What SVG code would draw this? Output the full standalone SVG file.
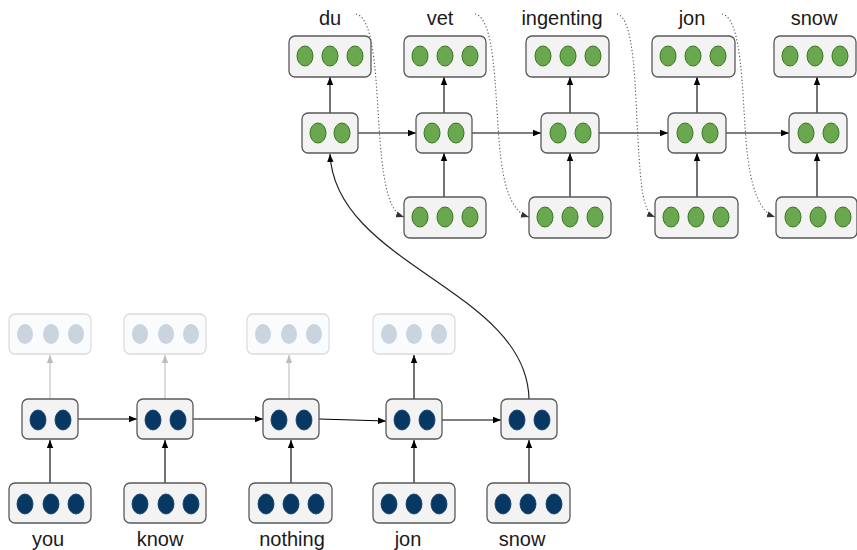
<svg xmlns="http://www.w3.org/2000/svg" width="857" height="550" viewBox="0 0 857 550">
<defs>
<style>
.box{fill:#f3f3f3;stroke:#595959;stroke-width:1.3}
.fbox{fill:#fafbfc;stroke:#dcdcdc;stroke-width:1.3}
.g{fill:#6aa84f;stroke:#38761d;stroke-width:1}
.b{fill:#073763;stroke:#0b3a66;stroke-width:0.8}
.f{fill:#c9d4df}
.lbl{font-family:"Liberation Sans",Arial,sans-serif;font-size:20px;fill:#1a1a1a;text-anchor:middle}
.a{fill:none;stroke:#000;stroke-width:1.1;marker-end:url(#ah)}
.ag{fill:none;stroke:#bdbdbd;stroke-width:1.1;marker-end:url(#ahg)}
.d{fill:none;stroke:#555;stroke-width:1.1;stroke-dasharray:1.2 2.2;marker-end:url(#ahd)}
.c{fill:none;stroke:#222;stroke-width:1.2;marker-end:url(#ah)}
ellipse{}
</style>
<marker id="ah" markerUnits="userSpaceOnUse" markerWidth="9" markerHeight="8" refX="8" refY="4" orient="auto"><path d="M0,0.8 L8,4 L0,7.2 Z" fill="#000"/></marker>
<marker id="ahg" markerUnits="userSpaceOnUse" markerWidth="9" markerHeight="8" refX="8" refY="4" orient="auto"><path d="M0,0.8 L8,4 L0,7.2 Z" fill="#bdbdbd"/></marker>
<marker id="ahd" markerUnits="userSpaceOnUse" markerWidth="9" markerHeight="8" refX="8" refY="4" orient="auto"><path d="M0,1 L8,4 L0,7 Z" fill="#333"/></marker>
</defs>

<g id="connectors">
<line class="a" x1="330" y1="113" x2="330" y2="77"/>
<line class="a" x1="444" y1="113" x2="444" y2="77"/>
<line class="a" x1="570" y1="113" x2="570" y2="77"/>
<line class="a" x1="697" y1="113" x2="697" y2="77"/>
<line class="a" x1="817" y1="113" x2="817" y2="77"/>
<line class="a" x1="444" y1="197" x2="444" y2="153"/>
<line class="a" x1="570" y1="197" x2="570" y2="153"/>
<line class="a" x1="697" y1="197" x2="697" y2="153"/>
<line class="a" x1="817" y1="197" x2="817" y2="153"/>
<line class="a" x1="358" y1="133" x2="416" y2="133"/>
<line class="a" x1="472" y1="133" x2="541" y2="133"/>
<line class="a" x1="599" y1="133" x2="668" y2="133"/>
<line class="a" x1="726" y1="133" x2="789" y2="133"/>
<path class="d" d="M356,14 C376,18 376,90 380,140 S390,212 404,217"/>
<path class="d" d="M475,14 C495,18 495,90 499,140 S512,212 529,217"/>
<path class="d" d="M617,14 C635,18 635,90 638,140 S643,212 655,217"/>
<path class="d" d="M722,14 C742,18 742,90 746,140 S760,212 775,217"/>
<line class="a" x1="50" y1="483" x2="50" y2="440"/>
<line class="a" x1="165" y1="483" x2="165" y2="440"/>
<line class="a" x1="291" y1="483" x2="291" y2="440"/>
<line class="a" x1="414" y1="483" x2="414" y2="440"/>
<line class="a" x1="529" y1="483" x2="529" y2="440"/>
<line class="ag" x1="50" y1="399" x2="50" y2="355"/>
<line class="ag" x1="165" y1="399" x2="165" y2="355"/>
<line class="ag" x1="289" y1="399" x2="289" y2="355"/>
<line class="a" x1="414" y1="399" x2="414" y2="355"/>
<line class="a" x1="78" y1="419" x2="137" y2="419"/>
<line class="a" x1="193" y1="419" x2="263" y2="419"/>
<line class="a" x1="319" y1="419" x2="386" y2="421"/>
<line class="a" x1="442" y1="420" x2="501" y2="420"/>
<path class="c" d="M529,399 C527,290 335,265 330,154"/>
</g>

<g id="dec-du-out"><rect class="box" x="289" y="36" width="82" height="41" rx="6"/><ellipse class="g" cx="305" cy="56" rx="8" ry="10"/><ellipse class="g" cx="330" cy="56" rx="8" ry="10"/><ellipse class="g" cx="355" cy="56" rx="8" ry="10"/></g>
<g id="dec-du-hid"><rect class="box" x="302" y="113" width="56" height="40" rx="6"/><ellipse class="g" cx="318" cy="133" rx="8" ry="10"/><ellipse class="g" cx="342" cy="133" rx="8" ry="10"/></g>

<g id="dec-vet-out"><rect class="box" x="404" y="36" width="82" height="41" rx="6"/><ellipse class="g" cx="420" cy="56" rx="8" ry="10"/><ellipse class="g" cx="445" cy="56" rx="8" ry="10"/><ellipse class="g" cx="470" cy="56" rx="8" ry="10"/></g>
<g id="dec-vet-hid"><rect class="box" x="416" y="113" width="56" height="40" rx="6"/><ellipse class="g" cx="432" cy="133" rx="8" ry="10"/><ellipse class="g" cx="456" cy="133" rx="8" ry="10"/></g>
<g id="dec-vet-in"><rect class="box" x="404" y="197" width="82" height="41" rx="6"/><ellipse class="g" cx="420" cy="217" rx="8" ry="10"/><ellipse class="g" cx="445" cy="217" rx="8" ry="10"/><ellipse class="g" cx="470" cy="217" rx="8" ry="10"/></g>

<g id="dec-ing-out"><rect class="box" x="526" y="36" width="83" height="41" rx="6"/><ellipse class="g" cx="543" cy="56" rx="8" ry="10"/><ellipse class="g" cx="568" cy="56" rx="8" ry="10"/><ellipse class="g" cx="593" cy="56" rx="8" ry="10"/></g>
<g id="dec-ing-hid"><rect class="box" x="541" y="113" width="58" height="40" rx="6"/><ellipse class="g" cx="558" cy="133" rx="8" ry="10"/><ellipse class="g" cx="583" cy="133" rx="8" ry="10"/></g>
<g id="dec-ing-in"><rect class="box" x="529" y="197" width="82" height="41" rx="6"/><ellipse class="g" cx="545" cy="217" rx="8" ry="10"/><ellipse class="g" cx="570" cy="217" rx="8" ry="10"/><ellipse class="g" cx="595" cy="217" rx="8" ry="10"/></g>

<g id="dec-jon-out"><rect class="box" x="652" y="36" width="83" height="41" rx="6"/><ellipse class="g" cx="668" cy="56" rx="8" ry="10"/><ellipse class="g" cx="693" cy="56" rx="8" ry="10"/><ellipse class="g" cx="718" cy="56" rx="8" ry="10"/></g>
<g id="dec-jon-hid"><rect class="box" x="668" y="113" width="58" height="40" rx="6"/><ellipse class="g" cx="685" cy="133" rx="8" ry="10"/><ellipse class="g" cx="710" cy="133" rx="8" ry="10"/></g>
<g id="dec-jon-in"><rect class="box" x="655" y="197" width="83" height="41" rx="6"/><ellipse class="g" cx="671" cy="217" rx="8" ry="10"/><ellipse class="g" cx="696" cy="217" rx="8" ry="10"/><ellipse class="g" cx="721" cy="217" rx="8" ry="10"/></g>

<g id="dec-snow-out"><rect class="box" x="774" y="36" width="82" height="41" rx="6"/><ellipse class="g" cx="790" cy="56" rx="8" ry="10"/><ellipse class="g" cx="815" cy="56" rx="8" ry="10"/><ellipse class="g" cx="840" cy="56" rx="8" ry="10"/></g>
<g id="dec-snow-hid"><rect class="box" x="789" y="113" width="58" height="40" rx="6"/><ellipse class="g" cx="806" cy="133" rx="8" ry="10"/><ellipse class="g" cx="831" cy="133" rx="8" ry="10"/></g>
<g id="dec-snow-in"><rect class="box" x="776" y="197" width="81" height="41" rx="6"/><ellipse class="g" cx="793" cy="217" rx="8" ry="10"/><ellipse class="g" cx="818" cy="217" rx="8" ry="10"/><ellipse class="g" cx="843" cy="217" rx="8" ry="10"/></g>

<g id="dec-labels">
<text class="lbl" x="330" y="25">du</text>
<text class="lbl" x="440" y="25">vet</text>
<text class="lbl" x="562" y="25">ingenting</text>
<text class="lbl" x="692" y="25">jon</text>
<text class="lbl" x="814" y="25">snow</text>
</g>

<g id="enc-you-out"><rect class="fbox" x="9" y="314" width="82" height="40" rx="6"/><ellipse class="f" cx="25" cy="334" rx="8" ry="10"/><ellipse class="f" cx="51" cy="334" rx="8" ry="10"/><ellipse class="f" cx="76" cy="334" rx="8" ry="10"/></g>
<g id="enc-you-hid"><rect class="box" x="22" y="399" width="56" height="40" rx="6"/><ellipse class="b" cx="38" cy="420" rx="8" ry="10"/><ellipse class="b" cx="63" cy="420" rx="8" ry="10"/></g>
<g id="enc-you-in"><rect class="box" x="9" y="483" width="82" height="40" rx="6"/><ellipse class="b" cx="25" cy="504" rx="8" ry="10"/><ellipse class="b" cx="51" cy="504" rx="8" ry="10"/><ellipse class="b" cx="76" cy="504" rx="8" ry="10"/></g>

<g id="enc-know-out"><rect class="fbox" x="124" y="314" width="82" height="40" rx="6"/><ellipse class="f" cx="140" cy="334" rx="8" ry="10"/><ellipse class="f" cx="166" cy="334" rx="8" ry="10"/><ellipse class="f" cx="191" cy="334" rx="8" ry="10"/></g>
<g id="enc-know-hid"><rect class="box" x="137" y="399" width="56" height="40" rx="6"/><ellipse class="b" cx="153" cy="420" rx="8" ry="10"/><ellipse class="b" cx="178" cy="420" rx="8" ry="10"/></g>
<g id="enc-know-in"><rect class="box" x="124" y="483" width="82" height="40" rx="6"/><ellipse class="b" cx="140" cy="504" rx="8" ry="10"/><ellipse class="b" cx="166" cy="504" rx="8" ry="10"/><ellipse class="b" cx="191" cy="504" rx="8" ry="10"/></g>

<g id="enc-nothing-out"><rect class="fbox" x="247" y="314" width="82" height="40" rx="6"/><ellipse class="f" cx="263" cy="334" rx="8" ry="10"/><ellipse class="f" cx="289" cy="334" rx="8" ry="10"/><ellipse class="f" cx="314" cy="334" rx="8" ry="10"/></g>
<g id="enc-nothing-hid"><rect class="box" x="263" y="399" width="56" height="40" rx="6"/><ellipse class="b" cx="279" cy="420" rx="8" ry="10"/><ellipse class="b" cx="304" cy="420" rx="8" ry="10"/></g>
<g id="enc-nothing-in"><rect class="box" x="249" y="483" width="83" height="40" rx="6"/><ellipse class="b" cx="266" cy="504" rx="8" ry="10"/><ellipse class="b" cx="291" cy="504" rx="8" ry="10"/><ellipse class="b" cx="316" cy="504" rx="8" ry="10"/></g>

<g id="enc-jon-out"><rect class="fbox" x="373" y="314" width="82" height="40" rx="6"/><ellipse class="f" cx="389" cy="334" rx="8" ry="10"/><ellipse class="f" cx="414" cy="334" rx="8" ry="10"/><ellipse class="f" cx="439" cy="334" rx="8" ry="10"/></g>
<g id="enc-jon-hid"><rect class="box" x="386" y="399" width="56" height="40" rx="6"/><ellipse class="b" cx="402" cy="420" rx="8" ry="10"/><ellipse class="b" cx="427" cy="420" rx="8" ry="10"/></g>
<g id="enc-jon-in"><rect class="box" x="373" y="483" width="82" height="40" rx="6"/><ellipse class="b" cx="389" cy="504" rx="8" ry="10"/><ellipse class="b" cx="414" cy="504" rx="8" ry="10"/><ellipse class="b" cx="439" cy="504" rx="8" ry="10"/></g>

<g id="enc-snow-hid"><rect class="box" x="501" y="399" width="56" height="40" rx="6"/><ellipse class="b" cx="517" cy="420" rx="8" ry="10"/><ellipse class="b" cx="542" cy="420" rx="8" ry="10"/></g>
<g id="enc-snow-in"><rect class="box" x="487" y="483" width="83" height="40" rx="6"/><ellipse class="b" cx="503" cy="504" rx="8" ry="10"/><ellipse class="b" cx="528" cy="504" rx="8" ry="10"/><ellipse class="b" cx="554" cy="504" rx="8" ry="10"/></g>

<g id="enc-labels">
<text class="lbl" x="48" y="546">you</text>
<text class="lbl" x="160" y="546">know</text>
<text class="lbl" x="292" y="546">nothing</text>
<text class="lbl" x="408" y="546">jon</text>
<text class="lbl" x="522" y="546">snow</text>
</g>
</svg>
